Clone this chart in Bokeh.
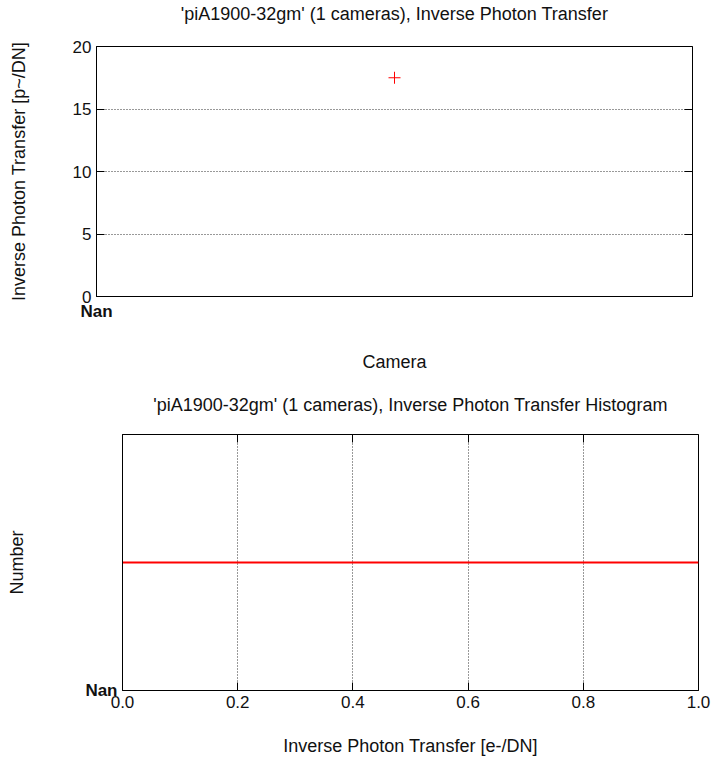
from bokeh.plotting import figure
from bokeh.models import Range1d, FixedTicker, LinearAxis
from bokeh.embed import file_html
from bokeh.resources import INLINE

# ---- data ----
title_top = "'piA1900-32gm' (1 cameras), Inverse Photon Transfer"
title_bot = "'piA1900-32gm' (1 cameras), Inverse Photon Transfer Histogram"
camera_labels = ["Nan"]
camera_ticks = [0.0]
camera_x = [0.5]
inv_photon_transfer = [17.5]
y_ticks_top = [0, 5, 10, 15, 20]

hist_x = [0.0, 1.0]
hist_count = [1, 1]
hist_x_ticks = [0.0, 0.2, 0.4, 0.6, 0.8, 1.0]
hist_x_labels = ["0.0", "0.2", "0.4", "0.6", "0.8", "1.0"]
hist_y_ticks = [0]
hist_y_labels = ["Nan"]

FONT = "Liberation Sans"
TICK_SIZE = "17px"
LABEL_SIZE = "18px"
TITLE_SIZE = "18px"
TEXT_COLOR = "#111111"


def style(p):
    p.outline_line_color = "black"
    p.outline_line_width = 1
    p.background_fill_color = "white"
    p.border_fill_color = "white"
    for ax in p.axis:
        ax.major_label_text_font = FONT
        ax.major_label_text_font_size = TICK_SIZE
        ax.major_label_text_color = TEXT_COLOR
        ax.axis_label_text_font = FONT
        ax.axis_label_text_font_size = LABEL_SIZE
        ax.axis_label_text_font_style = "normal"
        ax.axis_label_text_color = TEXT_COLOR
        ax.major_tick_in = 8
        ax.major_tick_out = 0
        ax.minor_tick_line_color = None
        ax.axis_line_color = "black"
        ax.major_tick_line_color = "black"


def bare_axis(ticks, label="", standoff=0, tick_in=0):
    # axis with unlabeled inward ticks; its axis label may serve as a title
    return LinearAxis(ticker=FixedTicker(ticks=ticks), axis_label=label,
                      major_label_overrides={t: "" for t in ticks},
                      axis_label_text_font=FONT, axis_label_text_font_size=TITLE_SIZE,
                      axis_label_text_font_style="normal", axis_label_text_color=TEXT_COLOR,
                      axis_label_standoff=standoff, major_label_standoff=0,
                      major_tick_in=tick_in, major_tick_out=0, minor_tick_in=0, minor_tick_out=0,
                      axis_line_color=None, major_tick_line_color="black",
                      minor_tick_line_color=None, major_label_text_font_size="0px")


# ---- top figure ----
p1 = figure(width=711, height=385, output_backend="svg", toolbar_location=None,
            x_range=Range1d(0, 1), y_range=Range1d(0, 20),
            min_border_left=96, min_border_right=19, min_border_top=46, min_border_bottom=89)
p1.scatter(camera_x, inv_photon_transfer, marker="cross", size=12, line_color="red", line_width=1)
p1.xaxis.ticker = FixedTicker(ticks=camera_ticks)
p1.xaxis.major_label_overrides = {t: l for t, l in zip(camera_ticks, camera_labels)}
p1.yaxis.ticker = FixedTicker(ticks=y_ticks_top)
p1.xaxis.axis_label = "Camera"
p1.yaxis.axis_label = "Inverse Photon Transfer [p~/DN]"
p1.xgrid.visible = False
p1.ygrid.ticker = FixedTicker(ticks=[5, 10, 15])
p1.ygrid.grid_line_color = "#333333"
p1.ygrid.grid_line_dash = "1 2"
style(p1)
p1.xaxis.major_label_text_font_style = "bold"
p1.xaxis.major_label_standoff = 5
p1.xaxis.axis_label_standoff = 28
p1.yaxis.axis_label_standoff = 41
p1.xaxis.major_tick_line_color = None
p1.add_layout(bare_axis([], title_top, 23), "above")
p1.add_layout(bare_axis(y_ticks_top, tick_in=8), "right")

# ---- bottom figure ----
p2 = figure(width=711, height=378, output_backend="svg", toolbar_location=None,
            x_range=Range1d(0, 1), y_range=Range1d(0, 2),
            min_border_left=122, min_border_right=13, min_border_top=49, min_border_bottom=73)
p2.line(hist_x, hist_count, line_color="red", line_width=2)
p2.xaxis.ticker = FixedTicker(ticks=hist_x_ticks)
p2.xaxis.major_label_overrides = {t: l for t, l in zip(hist_x_ticks, hist_x_labels)}
p2.yaxis.ticker = FixedTicker(ticks=hist_y_ticks)
p2.yaxis.major_label_overrides = {t: l for t, l in zip(hist_y_ticks, hist_y_labels)}
p2.xaxis.axis_label = "Inverse Photon Transfer [e-/DN]"
p2.yaxis.axis_label = "Number"
p2.ygrid.visible = False
p2.xgrid.ticker = FixedTicker(ticks=[0.2, 0.4, 0.6, 0.8])
p2.xgrid.grid_line_color = "#333333"
p2.xgrid.grid_line_dash = "1 2"
style(p2)
p2.yaxis.major_label_text_font_style = "bold"
p2.yaxis.major_tick_line_color = None
p2.xaxis.axis_label_standoff = 25
p2.yaxis.axis_label_standoff = 55
p2.add_layout(bare_axis(hist_x_ticks, title_bot, 20, tick_in=8), "above")

open("out.html", "w").write(file_html([p1, p2], INLINE))
